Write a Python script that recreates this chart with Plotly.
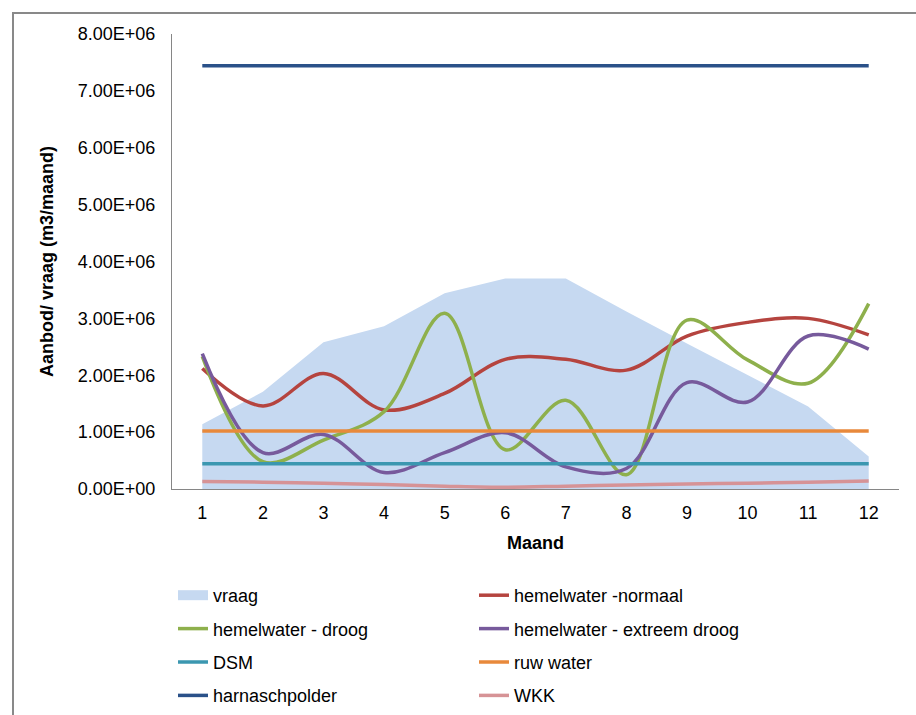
import plotly.graph_objects as go

months = [1, 2, 3, 4, 5, 6, 7, 8, 9, 10, 11, 12]
month_labels = [str(m) for m in months]

vraag = [1.14e6, 1.71e6, 2.58e6, 2.86e6, 3.44e6, 3.70e6, 3.70e6, 3.12e6, 2.56e6, 2.00e6, 1.45e6, 0.57e6]
hw_normaal = [2.12e6, 1.46e6, 2.03e6, 1.39e6, 1.68e6, 2.28e6, 2.28e6, 2.09e6, 2.69e6, 2.93e6, 3.00e6, 2.71e6]
hw_droog = [2.33e6, 0.48e6, 0.86e6, 1.36e6, 3.09e6, 0.69e6, 1.56e6, 0.25e6, 2.97e6, 2.27e6, 1.86e6, 3.26e6]
hw_extreem = [2.38e6, 0.64e6, 0.96e6, 0.29e6, 0.64e6, 0.99e6, 0.39e6, 0.36e6, 1.87e6, 1.53e6, 2.69e6, 2.46e6]
dsm = [0.445e6] * 12
ruw_water = [1.02e6] * 12
harnaschpolder = [7.44e6] * 12
wkk = [0.13e6, 0.12e6, 0.10e6, 0.08e6, 0.05e6, 0.03e6, 0.05e6, 0.07e6, 0.09e6, 0.10e6, 0.12e6, 0.14e6]

y_ticks = [0, 1e6, 2e6, 3e6, 4e6, 5e6, 6e6, 7e6, 8e6]
y_tick_labels = ["0.00E+00", "1.00E+06", "2.00E+06", "3.00E+06", "4.00E+06",
                 "5.00E+06", "6.00E+06", "7.00E+06", "8.00E+06"]

FONT = "Liberation Sans, Arial, sans-serif"
LW = 3.5
AREA = "#C6D9F1"

fig = go.Figure()

# area (legend shown through a legend-only entry with a rectangular swatch)
fig.add_trace(go.Scatter(x=months, y=vraag, name="vraag", mode="lines",
                         fill="tozeroy", fillcolor=AREA,
                         line=dict(width=0, color=AREA),
                         showlegend=False, legendgroup="a"))
fig.add_trace(go.Scatter(x=[None], y=[None], name="vraag", mode="lines",
                         line=dict(width=10, color=AREA),
                         legend="legend", legendgroup="a"))

col1 = [("hemelwater - droog", hw_droog, "#8EB04C", "b"),
        ("DSM", dsm, "#3B97B0", "c"),
        ("harnaschpolder", harnaschpolder, "#2A5189", "d")]
col2 = [("hemelwater -normaal", hw_normaal, "#B5443F", "e"),
        ("hemelwater - extreem droog", hw_extreem, "#775A9C", "f"),
        ("ruw water", ruw_water, "#E8893B", "g"),
        ("WKK", wkk, "#D69396", "h")]
col1_names = [c[0] for c in col1]

order = [col2[0], col1[0], col2[1], col1[1], col2[2], col1[2], col2[3]]
for name, vals, color, grp in order:
    leg = "legend" if name in col1_names else "legend2"
    fig.add_trace(go.Scatter(x=months, y=vals, name=name, mode="lines",
                             line=dict(color=color, width=LW, shape="spline", smoothing=1),
                             legend=leg, legendgroup=grp))

W, H = 916, 715
L, R, T, B = 172, 17, 34, 226
pw, ph = W - L - R, H - T - B

def px_x(p):
    return (p - L) / pw

def px_y(p):
    return (H - B - p) / ph

fig.update_layout(
    width=W, height=H,
    margin=dict(l=L, r=R, t=T, b=B, autoexpand=False),
    paper_bgcolor="white", plot_bgcolor="white",
    font=dict(family=FONT, size=18, color="#000000"),
    showlegend=True,
    legend=dict(x=px_x(173), y=px_y(577), xanchor="left", yanchor="top",
                orientation="v", tracegroupgap=7, bgcolor="rgba(0,0,0,0)",
                font=dict(size=18), itemwidth=30),
    legend2=dict(x=px_x(474), y=px_y(577), xanchor="left", yanchor="top",
                 orientation="v", tracegroupgap=7, bgcolor="rgba(0,0,0,0)",
                 font=dict(size=18), itemwidth=30),
    xaxis=dict(range=[0.5, 12.5], tickvals=months, ticktext=month_labels,
               showline=True, linecolor="#868686", linewidth=1, showgrid=False,
               zeroline=False, ticks="", tickfont=dict(size=18),
               ticklabelstandoff=7, automargin=False,
               title=dict(text="<b>Maand</b>", font=dict(size=18), standoff=14)),
    yaxis=dict(range=[0, 8e6], tickvals=y_ticks, ticktext=y_tick_labels,
               showline=True, linecolor="#868686", linewidth=1, showgrid=False,
               zeroline=False, ticks="", tickfont=dict(size=18),
               ticklabelstandoff=12, automargin=False,
               title=dict(text="<b>Aanbod/ vraag (m3/maand)</b>", font=dict(size=18), standoff=19)),
    shapes=[dict(type="rect", xref="paper", yref="paper",
                 x0=px_x(13), y0=px_y(725), x1=px_x(930), y1=px_y(13),
                 line=dict(color="#898989", width=2), fillcolor="rgba(0,0,0,0)",
                 layer="below")],
)

fig.write_html("out.html",
               config={"displayModeBar": False},
               post_script="document.body.style.margin='0px';document.body.style.padding='0px';")
